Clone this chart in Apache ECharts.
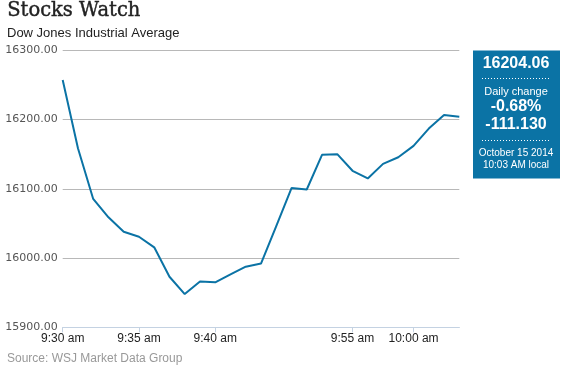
<!DOCTYPE html>
<html>
<head>
<meta charset="utf-8">
<script src="https://cdn.jsdelivr.net/npm/echarts@6/dist/echarts.min.js"></script>
<style>
html,body{margin:0;padding:0;background:#fff;}
#chart{width:563px;height:368px;}
</style>
</head>
<body>
<div id="chart"></div>
<script>
// Data
var times = ["9:30 am","9:31 am","9:32 am","9:33 am","9:34 am","9:35 am","9:36 am","9:37 am","9:38 am","9:39 am",
  "9:40 am","9:41 am","9:42 am","9:43 am","9:44 am","9:46 am","9:47 am","9:49 am","9:52 am","9:55 am",
  "9:56 am","9:57 am","9:58 am","10:00 am","10:01 am","10:02 am","10:03 am"];
var values = [16257,16158.5,16085.3,16058.8,16038,16030.8,16015.5,15973,15948,15966,
  15965,15976.5,15987.5,15992,16046,16101,16099,16149,16150,16126,
  16115,16136,16145.5,16162,16187,16206.6,16204.06];
var shownTimeLabels = ["9:30 am","9:35 am","9:40 am","9:55 am","10:00 am"];
var yTicks = [15900,16000,16100,16200,16300];
var infoLines = ["16204.06","Daily change","-0.68%","-111.130","October 15 2014","10:03 AM local"];

var chart = echarts.init(document.getElementById('chart'), null, {renderer:'canvas'});
var blue = '#0B73A5';
var sans = '"Liberation Sans", Arial, sans-serif';

function isShown(i, v){ return shownTimeLabels.indexOf(v) >= 0; }

var option = {
  animation:false,
  backgroundColor:'#fff',
  grid:{left:62.7, right:103.7, top:50.3, bottom:40.7, containLabel:false},
  xAxis:{
    type:'category', data:times, boundaryGap:false,
    axisLine:{show:true, lineStyle:{color:'#c4d2e2', width:1}},
    axisTick:{show:true, length:5, interval:isShown, lineStyle:{color:'#c4d2e2'}},
    axisLabel:{interval:isShown, margin:5, color:'#222', fontFamily:sans, fontSize:12},
    splitLine:{show:false}
  },
  yAxis:{
    type:'value', min:yTicks[0], max:yTicks[yTicks.length-1], interval:100,
    axisLine:{show:false}, axisTick:{show:false},
    axisLabel:{margin:5, color:'#555', fontFamily:'"DejaVu Sans", Verdana, sans-serif', fontSize:11,
      formatter:function(v){return v.toFixed(2);}},
    splitLine:{show:true, lineStyle:{color:'#b8b8b8', width:1}}
  },
  series:[{
    type:'line', data:values, showSymbol:false, symbol:'none',
    lineStyle:{color:blue, width:2}, z:5
  }],
  graphic:[
    {type:'text', left:7, top:1, style:{text:'Stocks Watch', font:'19.5px "DejaVu Serif", serif', fill:'#222', stroke:'#222', lineWidth:0.4}},
    {type:'text', left:7, top:27, style:{text:'Dow Jones Industrial Average', font:'13px '+sans, fill:'#222'}},
    {type:'text', left:7, top:353, style:{text:'Source: WSJ Market Data Group', font:'12px '+sans, fill:'#999'}},
    {type:'rect', shape:{x:473, y:50.5, width:87, height:128}, style:{fill:blue}},
    {type:'text', x:516, y:64, style:{text:infoLines[0], font:'bold 16px '+sans, fill:'#fff', align:'center', verticalAlign:'middle'}},
    {type:'line', shape:{x1:482, y1:78.5, x2:550, y2:78.5}, style:{stroke:'#fff', lineWidth:1, lineDash:[1,2]}},
    {type:'text', x:516, y:92, style:{text:infoLines[1], font:'11px '+sans, fill:'#fff', align:'center', verticalAlign:'middle'}},
    {type:'text', x:516, y:107, style:{text:infoLines[2], font:'bold 16px '+sans, fill:'#fff', align:'center', verticalAlign:'middle'}},
    {type:'text', x:516, y:125, style:{text:infoLines[3], font:'bold 16px '+sans, fill:'#fff', align:'center', verticalAlign:'middle'}},
    {type:'line', shape:{x1:482, y1:140.5, x2:550, y2:140.5}, style:{stroke:'#fff', lineWidth:1, lineDash:[1,2]}},
    {type:'text', x:516, y:153.5, style:{text:infoLines[4], font:'10px '+sans, fill:'#fff', align:'center', verticalAlign:'middle'}},
    {type:'text', x:516, y:165.5, style:{text:infoLines[5], font:'10px '+sans, fill:'#fff', align:'center', verticalAlign:'middle'}}
  ]
};
chart.setOption(option);
</script>
</body>
</html>
